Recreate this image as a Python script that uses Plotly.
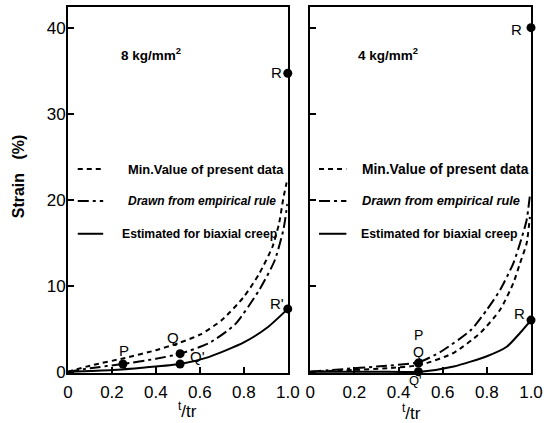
import plotly.graph_objects as go

# ---------------- data ----------------
# Left panel: 8 kg/mm^2
l_min_x = [0, 0.1, 0.26, 0.4, 0.5, 0.6, 0.7, 0.8, 0.87, 0.93, 0.96, 0.98, 0.995]
l_min_y = [0, 0.7, 1.6, 2.5, 3.3, 4.3, 6.0, 8.7, 11.4, 14.5, 17.2, 20.2, 22.0]
l_emp_x = [0, 0.1, 0.25, 0.4, 0.51, 0.64, 0.76, 0.87, 0.94, 0.98, 0.998]
l_emp_y = [0, 0.4, 0.9, 1.5, 2.1, 3.3, 5.5, 9.5, 12.9, 16.5, 19.5]
l_bia_x = [0, 0.2, 0.35, 0.51, 0.64, 0.8, 0.91, 1.0]
l_bia_y = [0, 0.2, 0.5, 0.9, 1.7, 3.4, 5.2, 7.3]
l_pts_x = [0.25, 0.51, 0.51, 1.0, 1.0]
l_pts_y = [0.9, 2.1, 0.9, 34.7, 7.3]
l_pts_lab = ["P", "Q", "Q'", "R", "R'"]

# Right panel: 4 kg/mm^2
r_min_x = [0, 0.2, 0.35, 0.5, 0.65, 0.77, 0.86, 0.92, 0.95, 0.98, 0.995]
r_min_y = [0, 0.2, 0.4, 0.8, 2.2, 4.5, 7.2, 10.3, 12.6, 14.9, 18.0]
r_emp_x = [0, 0.15, 0.3, 0.49, 0.59, 0.73, 0.8, 0.86, 0.92, 0.95, 0.98, 0.995]
r_emp_y = [0, 0.3, 0.6, 1.1, 2.3, 4.9, 7.2, 9.5, 12.6, 14.9, 17.6, 20.5]
r_bia_x = [0, 0.3, 0.5, 0.65, 0.8, 0.89, 0.95, 1.0]
r_bia_y = [0, 0.0, 0.0, 0.6, 1.8, 2.9, 4.5, 6.0]
r_pts_x = [0.49, 0.49, 1.0, 1.0]
r_pts_y = [1.0, 0.0, 40.0, 6.0]
r_pts_lab = ["P", "Q", "Q'", "R", "R"]

x_ticks = [0, 0.2, 0.4, 0.6, 0.8, 1.0]
x_ticklabels = ["0", "0.2", "0.4", "0.6", "0.8", "1.0"]
y_ticks = [0, 10, 20, 30, 40]
legend_labels = ["Min.Value of present data", "Drawn from empirical rule", "Estimated for biaxial creep"]
panel_titles = ["8 kg/mm<sup>2</sup>", "4 kg/mm<sup>2</sup>"]

# ---------------- figure ----------------
W, H = 548, 423
ML, MR, MT, MB = 68, 6, 5, 50
PW, PH = W - ML - MR, H - MT - MB

def px(xp):
    return (xp - ML) / PW

def py(yp):
    return (H - MB - yp) / PH

fig = go.Figure()
DASH = "5px,4px"
DASHDOT = "11px,4px,3px,4px"
LW = 2

def add_curves(xa, ya, xs, ys, dash):
    fig.add_trace(go.Scatter(x=xs, y=ys, mode="lines", xaxis=xa, yaxis=ya,
                             line=dict(color="black", width=LW, dash=dash, shape="spline", smoothing=0.6),
                             showlegend=False, hoverinfo="skip"))

add_curves("x", "y", l_min_x, l_min_y, DASH)
add_curves("x", "y", l_emp_x, l_emp_y, DASHDOT)
add_curves("x", "y", l_bia_x, l_bia_y, "solid")
add_curves("x2", "y2", r_min_x, r_min_y, DASH)
add_curves("x2", "y2", r_emp_x, r_emp_y, DASHDOT)
add_curves("x2", "y2", r_bia_x, r_bia_y, "solid")

fig.add_trace(go.Scatter(x=l_pts_x, y=l_pts_y, mode="markers", xaxis="x", yaxis="y",
                         marker=dict(color="black", size=9), showlegend=False, cliponaxis=False))
fig.add_trace(go.Scatter(x=r_pts_x, y=r_pts_y, mode="markers", xaxis="x2", yaxis="y2",
                         marker=dict(color="black", size=9), showlegend=False, cliponaxis=False))

tick_font = dict(family="Liberation Sans", size=17, color="black")
axis_common = dict(range=[0, 1.0], showline=True, linecolor="black", linewidth=2, mirror=True,
                   ticks="inside", ticklen=6, tickwidth=1.5, tickcolor="black",
                   tickvals=x_ticks, ticktext=x_ticklabels, showgrid=False, zeroline=False,
                   tickfont=tick_font, ticklabelstandoff=3)
yaxis_common = dict(range=[-0.15, 42.4], showline=True, linecolor="black", linewidth=2, mirror=True,
                    ticks="inside", ticklen=6, tickwidth=1.5, tickcolor="black",
                    tickvals=y_ticks, showgrid=False, zeroline=False,
                    tickfont=tick_font)

fig.update_layout(
    width=W, height=H, margin=dict(l=ML, r=MR, t=MT, b=MB),
    paper_bgcolor="white", plot_bgcolor="white",
    xaxis=dict(domain=[0, px(293)], **axis_common),
    xaxis2=dict(domain=[px(316), 1.0], **axis_common),
    yaxis=dict(domain=[0, 1], anchor="x", ticklabelstandoff=-3, **yaxis_common),
    yaxis2=dict(domain=[0, 1], anchor="x2", showticklabels=False, **yaxis_common),
)

ann = []

def note(text, x, y, font, xanchor="center", yanchor="middle", **kw):
    ann.append(dict(text=text, x=px(x), y=py(y), xref="paper", yref="paper",
                    xanchor=xanchor, yanchor=yanchor, showarrow=False, font=font, **kw))

# axis titles
note("<b>Strain   (%)</b>", 17, 175, dict(family="Liberation Sans", size=16, color="black"), textangle=-90)
note("<sup>t</sup>/tr", 190, 410, tick_font)
note("<sup>t</sup>/tr", 420, 412, tick_font)

# panel titles
title_font = dict(family="Liberation Sans", size=13.5, color="black")
note("<b>" + panel_titles[0] + "</b>", 120, 52, title_font, xanchor="left")
note("<b>" + panel_titles[1] + "</b>", 363, 52, title_font, xanchor="left")

# legends
shapes = []
leg_y = [168, 200, 233]
dashes = [DASH, DASHDOT, "solid"]
leg_sizes = {0: [12.9, 12.0, 12.2], 1: [13.8, 12.8, 12.3]}
leg_text_x = {0: [127, 127, 121], 1: [367, 367, 366]}
for p, (sx0, sx1) in enumerate([(78, 104), (325, 353)]):
    for i, lab in enumerate(legend_labels):
        shapes.append(dict(type="line", xref="paper", yref="paper",
                           x0=px(sx0), x1=px(sx1), y0=py(leg_y[i]), y1=py(leg_y[i]),
                           line=dict(color="black", width=LW, dash=dashes[i])))
        txt = "<b>" + lab + "</b>"
        if i == 1:
            txt = "<b><i>" + lab + "</i></b>"
        note(txt, leg_text_x[p][i], leg_y[i],
             dict(family="Liberation Sans", size=leg_sizes[p][i], color="black"), xanchor="left")

# point labels
lab_font = dict(family="Liberation Sans", size=15, color="black")
small_lab_font = dict(family="Liberation Sans", size=14, color="black")
tiny_lab_font = dict(family="Liberation Sans", size=13, color="black")
left_lab_pos = [(125, 350), (175, 337), (201, 356), (281, 71), (282, 303)]
for (lx, ly), t in zip(left_lab_pos, l_pts_lab):
    note(t, lx, ly, lab_font)
right_lab_pos = [(427, 335), (427, 352), (424, 381), (527, 28), (530, 313)]
right_fonts = [small_lab_font, small_lab_font, tiny_lab_font, lab_font, lab_font]
for (lx, ly), t, f in zip(right_lab_pos, r_pts_lab, right_fonts):
    note(t, lx, ly, f)

fig.update_layout(annotations=ann, shapes=shapes)
fig.write_html("out.html")
